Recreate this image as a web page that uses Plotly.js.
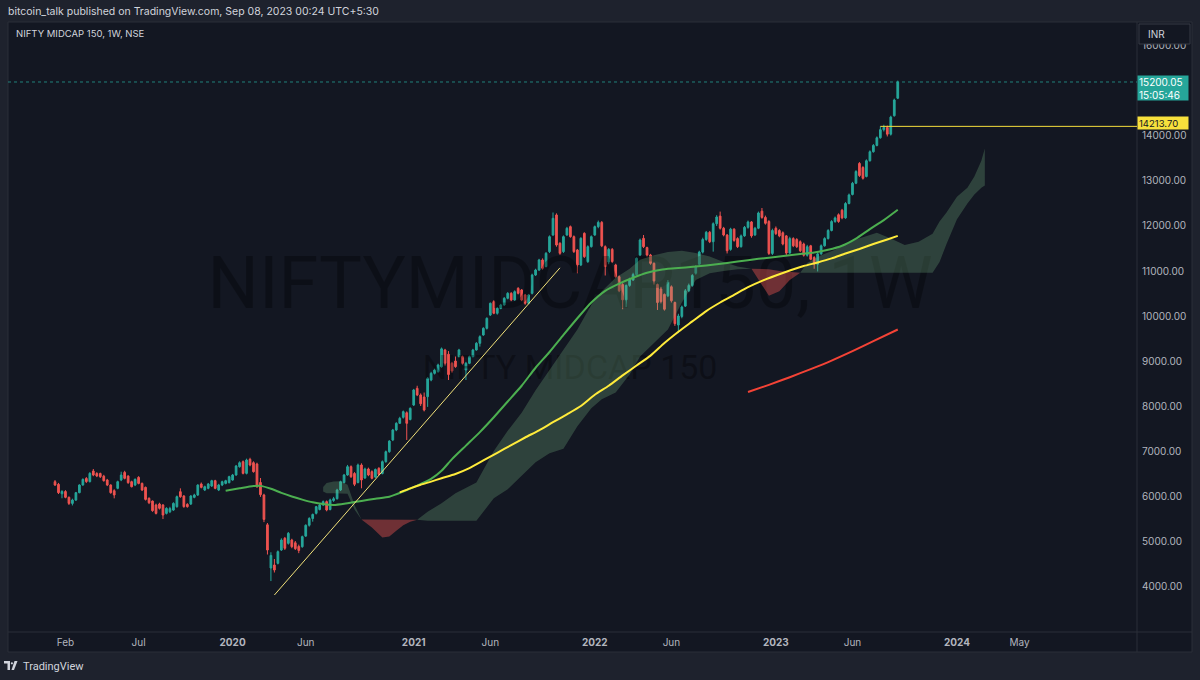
<!DOCTYPE html>
<html><head><meta charset="utf-8">
<script src="https://cdn.plot.ly/plotly-3.0.1.min.js"></script>
<style>html,body{margin:0;padding:0;background:#1e222d;overflow:hidden}#chart{width:1200px;height:680px}</style>
</head><body><div id="chart"></div>
<script>
// ---- weekly candles, NIFTY MIDCAP 150 (week 0 = 2019-01-14) ----
const openP = [6318,6259,6050,6100,5970,5836,5910,6074,6244,6390,
6320,6555,6500,6500,6440,6355,6244,6118,6170,6355,
6525,6444,6318,6244,6414,6280,6192,5948,5888,5800,
5822,5800,5614,5650,5688,5762,6096,6000,5814,5822,
5970,6022,6266,6133,6170,6222,6340,6133,6244,6280,
6296,6355,6466,6651,6763,6503,6814,6740,6711,6300,
6022,5360,4400,4467,4504,4800,5060,4948,5022,4960,
4880,4874,5110,5350,5500,5615,5700,5800,5874,5700,
5900,5940,6134,6300,6467,6652,6500,6300,6689,6400,
6600,6541,6420,6615,6500,6763,6985,7245,7467,7615,
7748,7850,7700,8022,8393,8245,8200,8208,8578,8726,
8763,8874,9245,9150,8948,9000,9097,9097,8800,8948,
9097,9245,9393,9578,9726,10022,10319,10060,10170,10245,
10393,10504,10356,10615,10578,10467,10282,10504,10911,11022,
11245,11100,11430,11800,12245,11615,11430,11800,11985,11763,
11467,11134,11837,11208,11541,11800,11985,12080,11541,11200,
11480,11134,10874,10700,10360,10680,10800,10920,11356,11726,
11520,11356,11170,10700,10600,10480,10450,10650,10300,9800,
9990,10220,10560,10680,10950,11150,11420,11700,11860,11650,
12050,12220,11950,11800,11480,11930,11720,11540,11780,11970,
12090,11800,11950,12330,12190,12100,11390,11950,11900,11850,
11780,11400,11720,11700,11650,11600,11350,11560,11300,11150,
11380,11560,11720,11900,12100,12250,12350,12180,12500,12700,
12950,13390,13300,13100,13450,13650,13790,13960,14140,14190,
14040,14450,14840];
const highP = [6355,6290,6130,6130,5990,5940,6090,6260,6390,6420,
6530,6600,6530,6520,6470,6380,6260,6150,6340,6540,
6560,6460,6340,6390,6440,6300,6210,5970,5900,5830,
5850,5820,5750,5760,5860,6010,6170,6020,5840,6020,
6050,6260,6300,6230,6290,6360,6360,6270,6340,6360,
6450,6490,6690,6770,6790,6830,6850,6770,6740,6400,
6050,5400,4750,4600,4790,5060,5090,5200,5050,5000,
4920,5120,5370,5530,5610,5780,5830,5900,5900,5940,
5980,6160,6340,6490,6690,6680,6530,6720,6726,6630,
6630,6570,6610,6640,6790,7010,7240,7490,7640,7760,
7900,7880,7970,8380,8450,8280,8300,8640,8760,8830,
8940,9300,9270,9220,8980,9100,9270,9120,8980,9120,
9270,9420,9570,9750,9970,10300,10350,10200,10270,10420,
10530,10530,10570,10640,10600,10490,10490,10940,11050,11270,
11280,11420,11790,12300,12280,11640,11790,11980,12010,11790,
11490,11750,11860,11570,11790,12010,12120,12110,11570,11510,
11510,11160,10900,10730,10700,10850,10960,11300,11720,11800,
11540,11380,11190,10720,10650,10500,10800,10680,10320,10050,
10230,10600,10720,10930,11130,11450,11740,11890,11890,12080,
12240,12320,11980,11820,11960,11950,11750,11810,12000,12120,
12110,11980,12320,12400,12230,12130,11940,11990,11930,11880,
11800,11760,11750,11730,11680,11630,11580,11580,11330,11420,
11590,11750,11930,12130,12210,12280,12380,12530,12720,12980,
13240,13420,13330,13480,13680,13820,13990,14213.7,14250,14230,
14450,14830,15230];
const lowP = [6222,6044,5950,5950,5800,5790,5890,6060,6230,6290,
6300,6440,6420,6400,6320,6220,6050,5948,6150,6330,
6370,6270,6190,6220,6260,6110,5900,5820,5650,5590,
5700,5488,5590,5620,5670,5740,5960,5740,5740,5800,
5950,6000,6170,6110,6150,6200,6150,6110,6220,6260,
6280,6340,6450,6630,6480,6480,6660,6520,6180,5980,
5420,4700,4110,4300,4480,4780,4800,4920,4840,4800,
4730,4850,5090,5320,5430,5590,5680,5780,5660,5680,
5870,5920,6110,6280,6450,6400,6220,6280,6171,6380,
6440,6370,6400,6460,6480,6740,6960,7220,7440,7600,
7720,7245,7680,8000,8220,8000,7880,7980,8550,8700,
8740,8850,8900,8578,8740,8850,9080,8920,8578,8930,
9080,9230,9320,9560,9700,10000,10040,10030,10150,10230,
10370,10330,10340,10480,10330,10250,10260,10480,10890,11000,
11030,11080,11400,11780,11540,11360,11400,11780,11740,11400,
10950,11110,11290,11180,11520,11780,11950,11530,10900,11150,
11180,10850,10530,10150,10200,10650,10780,10900,11330,11510,
11320,11140,10700,10134,10280,10120,10420,10300,9780,9620,
9950,10200,10530,10650,10920,11120,11390,11670,11620,11430,
12000,11920,11770,11390,11450,11650,11510,11520,11760,11940,
11740,11780,11930,12160,12030,11356,11356,11800,11750,11570,
11356,11380,11530,11510,11420,11320,11320,11240,11050,10990,
11360,11540,11700,11880,12070,12070,12150,12160,12480,12680,
12930,13090,13030,13080,13430,13630,13770,13940,14100,13990,
14010,14430,14820];
const closeP = [6244,6074,6100,5970,5836,5910,6074,6244,6370,6320,
6503,6466,6444,6430,6340,6244,6074,6022,6318,6466,
6392,6296,6207,6370,6280,6133,5925,5850,5674,5614,
5726,5577,5726,5720,5836,5985,5985,5763,5763,6000,
6022,6244,6192,6207,6266,6340,6170,6244,6318,6340,
6430,6466,6666,6740,6503,6800,6688,6540,6207,6030,
5480,4800,4680,4356,4763,5022,4837,5171,4874,4830,
4790,5097,5350,5500,5590,5763,5800,5874,5689,5911,
5940,6134,6319,6467,6652,6430,6260,6689,6356,6600,
6467,6393,6590,6480,6763,6985,7220,7467,7615,7726,
7874,7615,7948,8356,8245,8050,7911,8615,8726,8800,
8911,9270,8950,8700,8780,8874,9245,8948,8948,9097,
9245,9393,9541,9726,9948,10282,10060,10170,10245,10393,
10504,10356,10541,10504,10356,10282,10467,10911,11022,11245,
11060,11393,11763,12170,11578,11393,11763,11948,11763,11430,
11134,11726,11319,11541,11763,11985,12080,11560,11097,11480,
11210,10874,10560,10360,10680,10820,10920,11282,11689,11541,
11356,11170,10780,10300,10320,10150,10750,10340,9830,10000,
10200,10560,10680,10900,11100,11420,11700,11860,11650,12050,
12200,11950,11800,11450,11930,11680,11540,11780,11970,12090,
11780,11950,12290,12190,12060,11390,11900,11830,11780,11600,
11400,11720,11560,11540,11450,11350,11540,11260,11150,11380,
11560,11720,11900,12100,12180,12100,12180,12500,12690,12950,
13210,13120,13060,13450,13650,13790,13960,14140,14190,14040,
14420,14800,15200.05];

// ---- moving averages (week index, value) ----
const sma50Week = [49,53,57,59,62,65,68,71,74,77,80,84,88,92,96,100,104,108,111,114,118,122,126,130,134,138,142,146,150,154,158,162,166,170,174,178,184,190,196,202,208,214,218,222,226,230,234,238,242];
const sma50Val = [6115,6170,6220,6225,6160,6070,5990,5920,5860,5820,5800,5840,5890,5940,5985,6100,6230,6380,6560,6820,7120,7420,7750,8100,8450,8850,9200,9580,9950,10300,10560,10720,10850,10960,11030,11060,11100,11150,11210,11270,11320,11378,11410,11470,11560,11720,11930,12130,12360];
const sma100Week = [99,102,105,108,111,115,119,123,127,131,135,139,143,147,151,155,159,163,167,171,175,179,183,187,191,195,199,203,207,211,215,219,223,227,231,235,239,242];
const sma100Val = [6080,6170,6250,6320,6395,6490,6620,6790,6960,7130,7300,7460,7640,7815,8000,8250,8450,8680,8900,9120,9400,9650,9880,10110,10300,10470,10640,10780,10900,11010,11110,11190,11280,11390,11490,11600,11700,11780];
const sma200Week = [199,205,211,217,223,229,235,242];
const sma200Val = [8310,8470,8640,8820,9010,9220,9440,9700];

// ---- Ichimoku cloud (leading spans, week index) ----
const cloudWeek = [77,78,80,82,84,86,88,89,91,94,96,98,100,102,104,107,111,115,121,126,130,134,138,142,146,150,154,157,161,165,168,172,176,180,184,188,192,196,200,203,205,208,211,214,216,220,224,230,236,240,244,248,252,254,256,259,262,264,266,267];
const cloudA = [6200,6290,6320,6330,6250,5800,5480,5420,5300,5080,5100,5230,5350,5430,5470,5650,5840,6060,6300,7000,7450,7850,8350,8800,9250,9700,10250,10550,10850,11050,11250,11350,11420,11450,11400,11320,11200,11100,11050,10700,10450,10550,10800,10960,11180,11350,11470,11700,11850,11720,11580,11650,11830,12100,12300,12650,12850,13100,13450,13720];
const cloudB = [6100,6060,6060,6060,6050,5700,5480,5480,5470,5470,5470,5470,5470,5470,5470,5450,5450,5450,5450,5950,6150,6450,6750,6950,7050,7550,7950,8150,8300,8700,9100,9400,9700,10300,10800,10950,11000,11040,11050,11050,11040,11000,10980,10960,10960,10960,10960,10960,10960,10960,10960,10960,10960,11200,11600,12150,12500,12700,12850,12900];

// ---- drawings ----
const trendWeek = [63,145];
const trendVal = [3800,11070];
const levelWeek = 237;
const levelVal = 14213.70;
const lastPrice = 15200.05;
const countdown = '15:05:46';

// ---- axis ticks (15000.00 is hidden under the last-price label in the reference) ----
const priceTicks = [4000,5000,6000,7000,8000,9000,10000,11000,12000,13000,14000,16000];
const timeTickWeek = [3,24,51,72,103,125,155,177,207,229,259,277];
const timeTickText = ['Feb','Jul','<b>2020</b>','Jun','<b>2021</b>','Jun','<b>2022</b>','Jun','<b>2023</b>','Jun','<b>2024</b>','May'];

const T0 = Date.UTC(2019,0,14);
function wd(w){ return new Date(T0 + w*7*86400000).toISOString().slice(0,19).replace('T',' '); }
const W = 1200, H = 680, L = 8, R = 1137, TOP = 22, BOT = 632;
const px = X => (X - L) / (R - L);
const py = Y => (BOT - Y) / (BOT - TOP);

const dates = openP.map((_, i) => wd(i));
const FONT = 'Inter, Roboto, "DejaVu Sans", sans-serif';

const traces = [];
// watermark (drawn first, beneath everything)
traces.push({type:'scatter', mode:'text', x:[wd(147.9)], y:[10578], text:['NIFTYMIDCAP150, 1W'],
  textfont:{family:'Roboto, sans-serif', size:72, color:'rgba(0,0,0,0.32)'}, hoverinfo:'skip', showlegend:false});
traces.push({type:'scatter', mode:'text', x:[wd(147.9)], y:[8800], text:['NIFTY MIDCAP 150'],
  textfont:{family:'Roboto, sans-serif', size:34, color:'rgba(0,0,0,0.32)'}, hoverinfo:'skip', showlegend:false});

// cloud polygons split by colour
function poly(run, sign){
  const xs = run.map(k => wd(cloudWeek[k]));
  const ya = run.map(k => cloudA[k]);
  const yb = run.map(k => cloudB[k]);
  return {type:'scatter', mode:'lines', x: xs.concat(xs.slice().reverse()), y: ya.concat(yb.slice().reverse()),
    fill:'toself', fillcolor: sign >= 0 ? 'rgba(120,180,130,0.28)' : 'rgba(239,83,80,0.42)',
    line:{width:0}, hoverinfo:'skip', showlegend:false};
}
(function(){
  const sg = k => Math.sign(cloudA[k] - cloudB[k]);
  let run = [0], rs = sg(0);
  for (let k = 1; k < cloudWeek.length; k++){
    const s = sg(k);
    run.push(k);
    if (s === 0 || (rs !== 0 && s !== rs)){
      if (run.length > 1) traces.push(poly(run, rs));
      run = [k]; rs = s;
    } else if (rs === 0) rs = s;
  }
  if (run.length > 1) traces.push(poly(run, rs));
})();

// candles
traces.push({type:'candlestick', x:dates, open:openP, high:highP, low:lowP, close:closeP,
  increasing:{line:{color:'#26a69a', width:1}, fillcolor:'#26a69a'},
  decreasing:{line:{color:'#ef5350', width:1}, fillcolor:'#ef5350'},
  whiskerwidth:0, hoverinfo:'skip', showlegend:false});

// moving averages
traces.push({type:'scatter', mode:'lines', x:sma50Week.map(wd), y:sma50Val, line:{color:'#4caf50', width:2, shape:'spline', smoothing:0.6}, hoverinfo:'skip', showlegend:false});
traces.push({type:'scatter', mode:'lines', x:sma100Week.map(wd), y:sma100Val, line:{color:'#ffeb3b', width:2, shape:'spline', smoothing:0.6}, hoverinfo:'skip', showlegend:false});
traces.push({type:'scatter', mode:'lines', x:sma200Week.map(wd), y:sma200Val, line:{color:'#f44336', width:2, shape:'spline', smoothing:0.6}, hoverinfo:'skip', showlegend:false});
// trend line
traces.push({type:'scatter', mode:'lines', x:trendWeek.map(wd), y:trendVal, line:{color:'#f2e27a', width:1}, hoverinfo:'skip', showlegend:false});

const shapes = [
  {type:'rect', xref:'paper', yref:'paper', x0:px(8), x1:px(1192), y0:py(652), y1:py(22), fillcolor:'#131722', line:{color:'#2a2e39', width:1}, layer:'below'},
  {type:'line', xref:'paper', yref:'paper', x0:px(1137), x1:px(1137), y0:py(652), y1:py(22), line:{color:'#2a2e39', width:1}},
  {type:'line', xref:'paper', yref:'paper', x0:px(8), x1:px(1192), y0:py(632), y1:py(632), line:{color:'#2a2e39', width:1}},
  {type:'rect', xref:'paper', yref:'paper', x0:px(1139), x1:px(1190), y0:py(44), y1:py(24), fillcolor:'#131722', line:{color:'#363a45', width:1}, layer:'above'},
  {type:'line', xref:'paper', yref:'y', x0:0, x1:1, y0:lastPrice, y1:lastPrice, line:{color:'rgba(38,166,154,0.75)', width:1, dash:'dot'}},
  {type:'line', xref:'x', yref:'y', x0:wd(levelWeek), x1:wd(330), y0:levelVal, y1:levelVal, line:{color:'#f5dd3d', width:1}},
  // TradingView logo
  {type:'path', xref:'paper', yref:'paper', path:`M ${px(4)},${py(661)} L ${px(10)},${py(661)} L ${px(10)},${py(670)} L ${px(7.5)},${py(670)} L ${px(7.5)},${py(663.5)} L ${px(4)},${py(663.5)} Z`, fillcolor:'#d1d4dc', line:{width:0}},
  {type:'circle', xref:'paper', yref:'paper', x0:px(10.8), x1:px(13), y0:py(664.4), y1:py(662.2), fillcolor:'#d1d4dc', line:{width:0}},
  {type:'path', xref:'paper', yref:'paper', path:`M ${px(14.5)},${py(661)} L ${px(17.5)},${py(661)} L ${px(14)},${py(670)} L ${px(11.5)},${py(670)} Z`, fillcolor:'#d1d4dc', line:{width:0}}
];

const annotations = [
  {xref:'paper', yref:'paper', x:px(6), y:py(12), xanchor:'left', yanchor:'middle', showarrow:false,
   text:'bitcoin_talk published on TradingView.com, Sep 08, 2023 00:24 UTC+5:30', font:{family:FONT, size:10.5, color:'#d1d4dc'}},
  {xref:'paper', yref:'paper', x:px(14), y:py(33), xanchor:'left', yanchor:'middle', showarrow:false,
   text:'NIFTY MIDCAP 150, 1W, NSE', font:{family:FONT, size:9.5, color:'#d1d4dc'}},
  {xref:'paper', yref:'paper', x:px(1146), y:py(34), xanchor:'left', yanchor:'middle', showarrow:false,
   text:'INR', font:{family:FONT, size:10, color:'#d1d4dc'}},
  {xref:'paper', yref:'y', x:px(1137), y:lastPrice, xanchor:'left', yanchor:'top', yshift:7, showarrow:false,
   text: lastPrice.toFixed(2) + '<br>' + countdown, align:'left', width:48, height:22, borderpad:1,
   bgcolor:'#26a69a', font:{family:FONT, size:10, color:'#ffffff'}},
  {xref:'paper', yref:'y', x:px(1137), y:levelVal, xanchor:'left', yanchor:'middle', yshift:3, showarrow:false,
   text: levelVal.toFixed(2), align:'left', width:48, height:10, borderpad:1,
   bgcolor:'#f7e03c', font:{family:FONT, size:9.5, color:'#131722'}},
  {xref:'paper', yref:'paper', x:px(21), y:py(666), xanchor:'left', yanchor:'middle', showarrow:false,
   text:'TradingView', font:{family:'"Liberation Sans Narrow", Roboto, sans-serif', size:11, color:'#d1d4dc'}}
];

const layout = {
  width:W, height:H, margin:{l:L, r:W-R, t:TOP, b:H-BOT, pad:0},
  paper_bgcolor:'#1e222d', plot_bgcolor:'rgba(0,0,0,0)',
  showlegend:false, hovermode:false, dragmode:false,
  xaxis:{type:'date', range:[wd(-13.5), wd(310.7)], showgrid:false, zeroline:false, showline:false,
    tickvals:timeTickWeek.map(wd), ticktext:timeTickText, ticks:'', ticklabelstandoff:3,
    tickfont:{family:FONT, size:10, color:'#b2b5be'}, rangeslider:{visible:false}, fixedrange:true},
  yaxis:{side:'right', range:[2978, 16533], showgrid:false, zeroline:false, showline:false,
    tickvals:priceTicks, tickformat:'.2f', ticks:'', ticklabelstandoff:4,
    tickfont:{family:FONT, size:10, color:'#b2b5be'}, fixedrange:true},
  shapes:shapes, annotations:annotations
};

Plotly.newPlot('chart', traces, layout, {displayModeBar:false, staticPlot:true});
</script></body></html>
